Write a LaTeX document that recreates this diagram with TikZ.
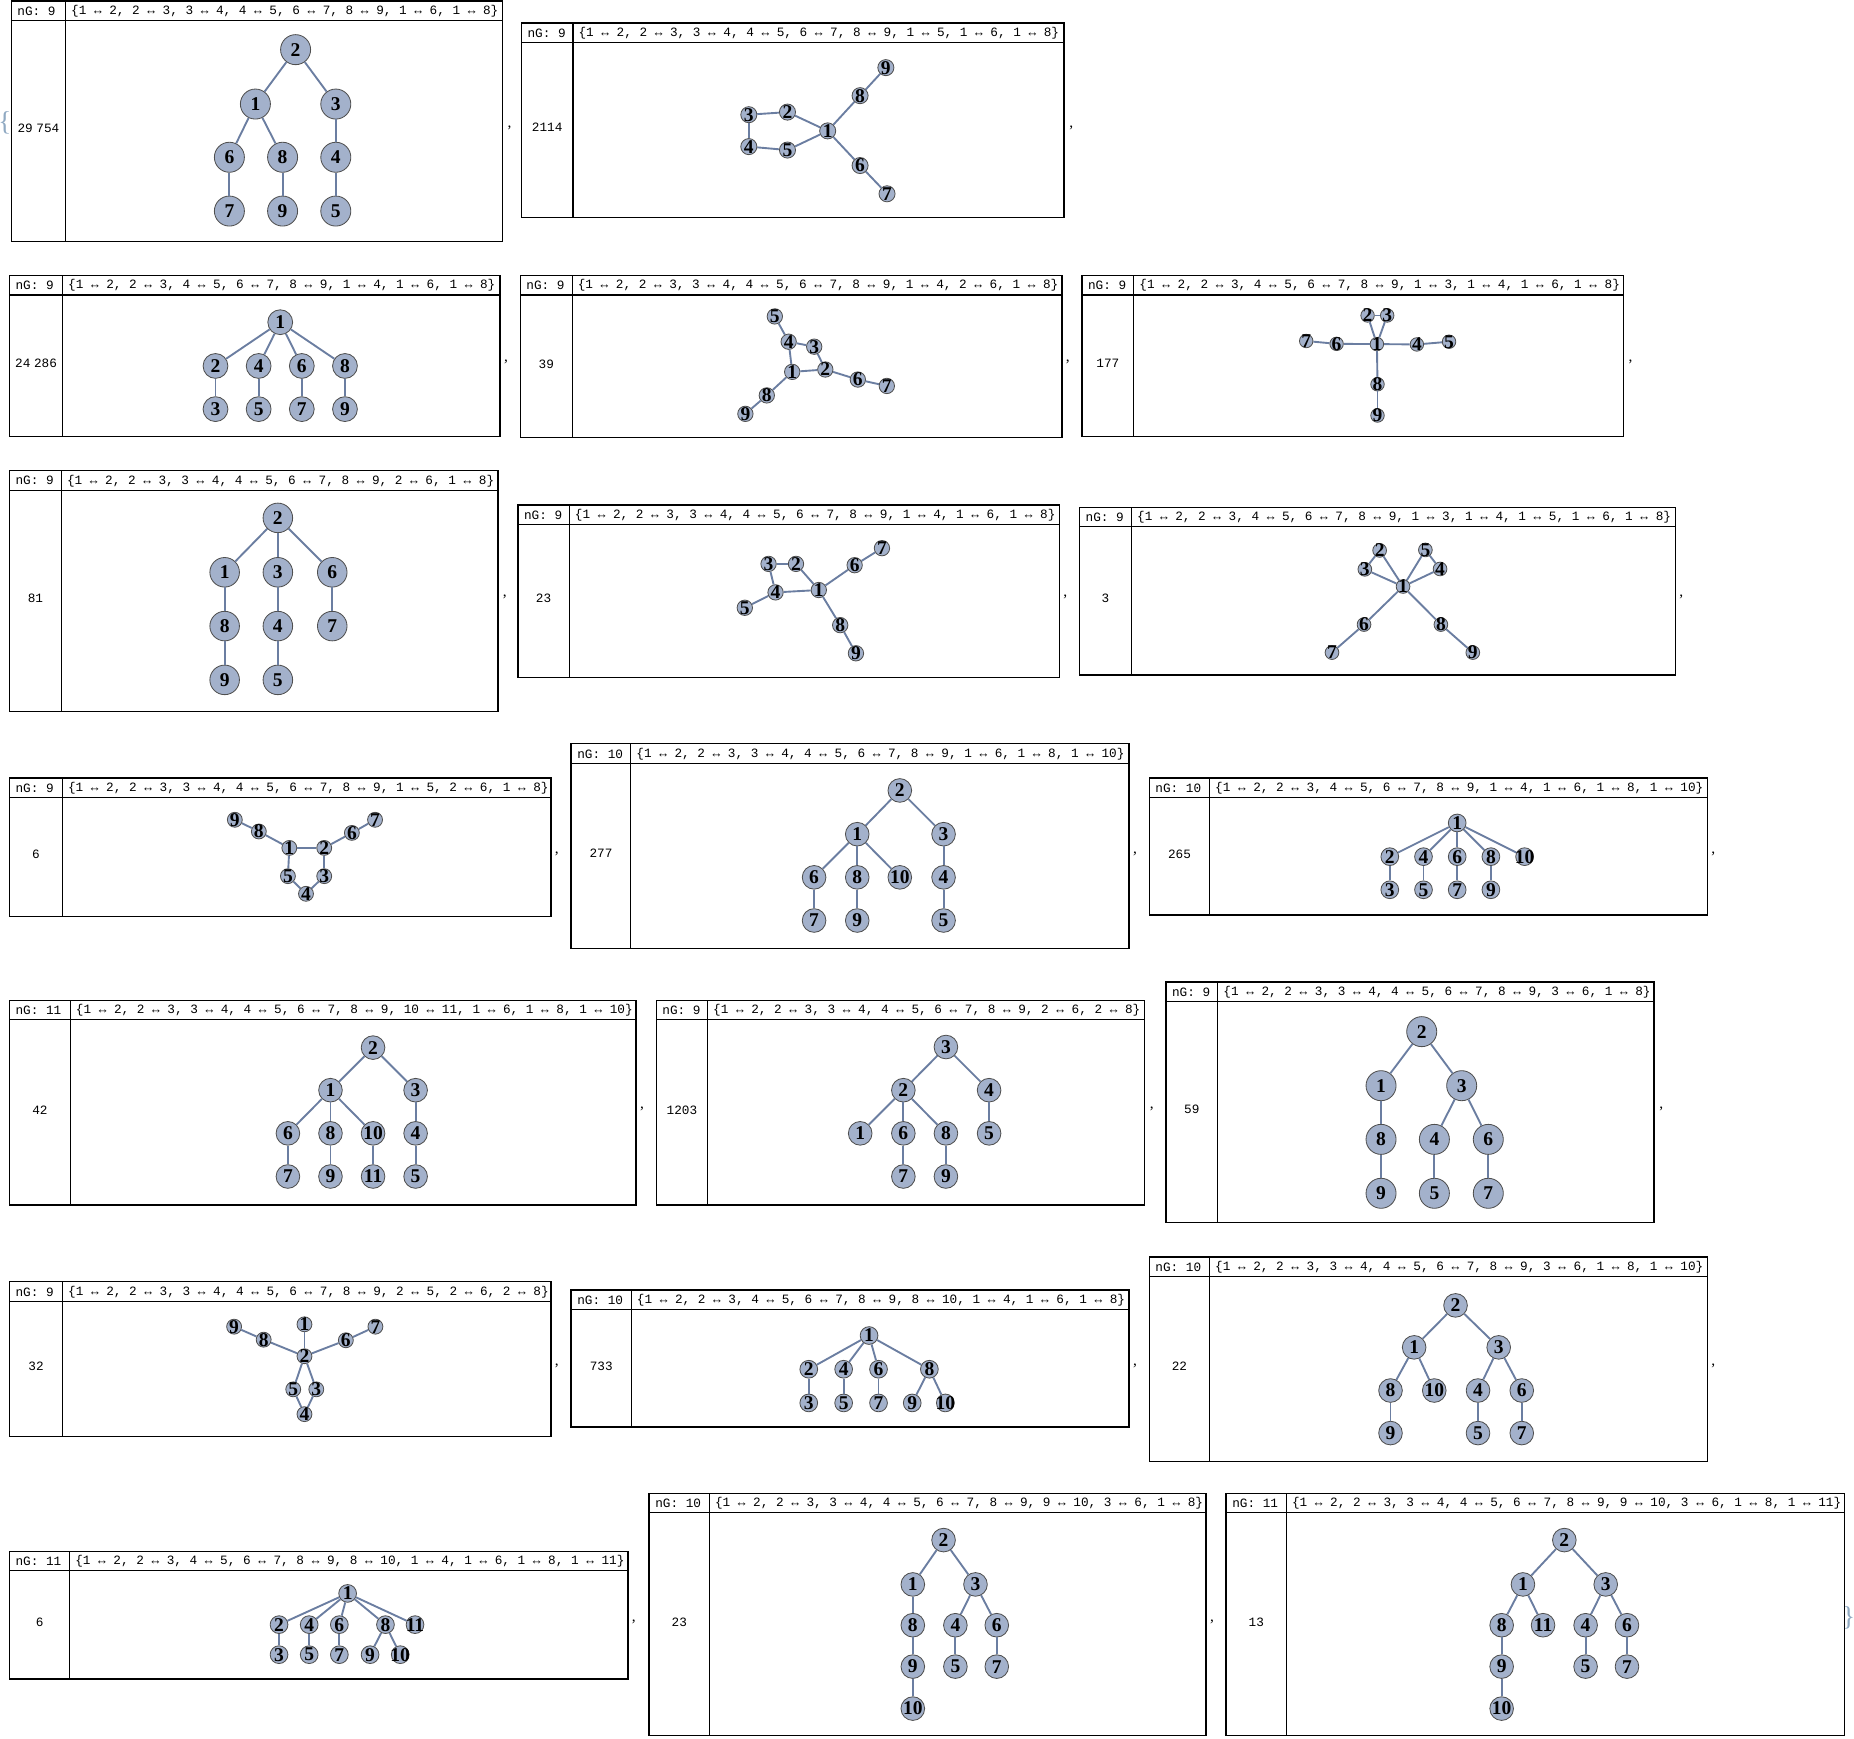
\documentclass[tikz,border=0pt]{standalone}
\usepackage{fontspec}
\setmainfont{Liberation Serif}
\setmonofont{Liberation Mono}
\definecolor{vfill}{HTML}{A3B1CB}
\definecolor{vdraw}{HTML}{4F4F4F}
\definecolor{ecol}{HTML}{6B7EA1}
\definecolor{brc}{HTML}{8FA9C2}
\tikzset{
  vtx/.style={circle,minimum size=#1,inner sep=0pt,fill=vfill,draw=vdraw,line width=0.7pt,font=\fontsize{16.5}{16.5}\selectfont\bfseries},
  glink/.style={draw=ecol,line width=1.6pt},
  pbox/.style={draw=black,line width=1.2pt},
  prule/.style={draw=black,line width=0.9pt},
  hdr/.style={inner sep=0pt,font=\ttfamily\fontsize{10.75}{12}\selectfont},
  commatxt/.style={inner sep=0pt,font=\fontsize{13}{13}\selectfont},
  bracetxt/.style={inner sep=0pt,text=brc,font=\fontsize{23}{23}\selectfont},
}
% #1 id, #2 left, #3 top, #4 right, #5 bottom, #6 divider, #7 nG, #8 edge list, #9 label
\newcommand\gpanel[9]{%
  \draw[pbox] (#2,#3) rectangle (#4,#5);
  \draw[prule] ({#2},{#3+16.5}) -- ({#4},{#3+16.5});
  \draw[prule] (#6,#3) -- (#6,#5);
  \node[hdr,anchor=west] (#1ng) at ({#2+5},{#3+8.6}) {nG: #7};
  \node[hdr,anchor=west] (#1el) at ({#6+4.5},{#3+8.6}) {#8};
  \node[hdr] (#1lab) at ({(#2+#6)/2},{(#3+16.5+#5)/2-2}) {#9};
}
\newcommand\gnodes[3]{\foreach \n/\x/\y in {#3} {\node[vtx=#2] (#1\n) at (\x,\y) {\makebox[0pt]{\n}};}}
\newcommand\gedges[2]{\foreach \u/\v in {#2} {\draw[glink] (#1\u) -- (#1\v);}}
\newcommand\gcomma[3]{\node[commatxt] (#1cm) at (#2,#3) {,};}
\begin{document}
\begin{tikzpicture}[x=1pt,y=-1pt]
\useasboundingbox (0,0) rectangle (1568,1470);
\node[bracetxt] (obrace) at (4.2,104) {\{};
\node[bracetxt] (cbrace) at (1563.5,1368) {\}};

% ---------- P1
\gpanel{a}{9.5}{0.8}{425}{204}{55.5}{9}{\{1 ↔ 2, 2 ↔ 3, 3 ↔ 4, 4 ↔ 5, 6 ↔ 7, 8 ↔ 9, 1 ↔ 6, 1 ↔ 8\}}{29\hspace{3pt}754}
\gnodes{a}{25.4}{1/216/88, 2/250/42, 3/284/88, 4/284/133, 5/284/178.5, 6/194/133, 7/194/178.5, 8/239/133, 9/239/178.5}
\gedges{a}{1/2,2/3,3/4,4/5,6/7,8/9,1/6,1/8}
\gcomma{a}{431}{108}

% ---------- P2
\gpanel{b}{441}{19.5}{900}{184}{484.6}{9}{\{1 ↔ 2, 2 ↔ 3, 3 ↔ 4, 4 ↔ 5, 6 ↔ 7, 8 ↔ 9, 1 ↔ 5, 1 ↔ 6, 1 ↔ 8\}}{2114}
\gnodes{b}{13.6}{1/700/110.7, 2/666/94.8, 3/633.3/97, 4/633.3/124, 5/666/126.9, 6/727.4/140, 7/750.2/163.9, 8/727.4/80.9, 9/749.2/57.2}
\gedges{b}{1/2,2/3,3/4,4/5,6/7,8/9,1/5,1/6,1/8}
\gcomma{b}{906}{108}

% ---------- P3
\gpanel{c}{8}{233}{423}{369}{53}{9}{\{1 ↔ 2, 2 ↔ 3, 4 ↔ 5, 6 ↔ 7, 8 ↔ 9, 1 ↔ 4, 1 ↔ 6, 1 ↔ 8\}}{24\hspace{3pt}286}
\gnodes{c}{21}{1/237/272.5, 2/182.25/309.5, 4/218.75/309.5, 6/255.25/309.5, 8/291.75/309.5, 3/182.25/346, 5/218.75/346, 7/255.25/346, 9/291.75/346}
\gedges{c}{1/2,2/3,4/5,6/7,8/9,1/4,1/6,1/8}
\gcomma{c}{428}{306}

% ---------- P4
\gpanel{d}{440}{233}{898}{370}{484}{9}{\{1 ↔ 2, 2 ↔ 3, 3 ↔ 4, 4 ↔ 5, 6 ↔ 7, 8 ↔ 9, 1 ↔ 4, 2 ↔ 6, 1 ↔ 8\}}{39}
\gnodes{d}{13}{1/670/314.5, 2/698/312.5, 3/688.6/293.2, 4/667/289, 5/655.3/267.6, 6/725.5/321, 7/750/326.4, 8/648.5/334.4, 9/630.4/350}
\gedges{d}{1/2,2/3,3/4,4/5,6/7,8/9,1/4,2/6,1/8}
\gcomma{d}{903}{306}

% ---------- P5
\gpanel{e}{915}{233}{1373}{369}{959}{9}{\{1 ↔ 2, 2 ↔ 3, 4 ↔ 5, 6 ↔ 7, 8 ↔ 9, 1 ↔ 3, 1 ↔ 4, 1 ↔ 6, 1 ↔ 8\}}{177}
\gnodes{e}{11.4}{1/1164.5/291, 2/1156.6/266.8, 3/1173.2/266.8, 4/1198.3/291.3, 5/1225.5/289, 6/1130.4/290.8, 7/1104.7/288.4, 8/1165/325, 9/1165/351.4}
\gedges{e}{1/2,2/3,4/5,6/7,8/9,1/3,1/4,1/6,1/8}
\gcomma{e}{1379}{306}

% ---------- P6
\gpanel{f}{8}{398}{421}{601.5}{52}{9}{\{1 ↔ 2, 2 ↔ 3, 3 ↔ 4, 4 ↔ 5, 6 ↔ 7, 8 ↔ 9, 2 ↔ 6, 1 ↔ 8\}}{81}
\gnodes{f}{25}{2/235/438, 1/190/484, 3/235/484, 6/281/484, 8/190/529.5, 4/235/529.5, 7/281/529.5, 9/190/575, 5/235/575}
\gedges{f}{1/2,2/3,3/4,4/5,6/7,8/9,2/6,1/8}
\gcomma{f}{427}{505}

% ---------- P7
\gpanel{g}{438}{427}{896}{573}{481.5}{9}{\{1 ↔ 2, 2 ↔ 3, 3 ↔ 4, 4 ↔ 5, 6 ↔ 7, 8 ↔ 9, 1 ↔ 4, 1 ↔ 6, 1 ↔ 8\}}{23}
\gnodes{g}{13}{1/692.5/499, 2/673.2/476.9, 3/650/476.9, 4/655.9/501, 5/629.9/514, 6/722.8/478, 7/745.9/463.6, 8/710.6/528.7, 9/723.9/552.5}
\gedges{g}{1/2,2/3,3/4,4/5,6/7,8/9,1/4,1/6,1/8}
\gcomma{g}{901}{505}

% ---------- P8
\gpanel{h}{913}{429}{1417}{571}{957}{9}{\{1 ↔ 2, 2 ↔ 3, 4 ↔ 5, 6 ↔ 7, 8 ↔ 9, 1 ↔ 3, 1 ↔ 4, 1 ↔ 5, 1 ↔ 6, 1 ↔ 8\}}{3}
\gnodes{h}{11.6}{1/1186.6/496, 2/1166.8/465.5, 3/1154.3/481.5, 4/1217.9/481.2, 5/1205.5/465.1, 6/1153.6/528.2, 7/1126.5/551.9, 8/1218.6/528.2, 9/1245.6/551.9}
\gedges{h}{1/2,2/3,4/5,6/7,8/9,1/3,1/4,1/5,1/6,1/8}
\gcomma{h}{1422}{505}

% ---------- P9
\gpanel{i}{8}{658}{466}{775}{52.9}{9}{\{1 ↔ 2, 2 ↔ 3, 3 ↔ 4, 4 ↔ 5, 6 ↔ 7, 8 ↔ 9, 1 ↔ 5, 2 ↔ 6, 1 ↔ 8\}}{6}
\gnodes{i}{12.6}{1/244.7/717.1, 2/274.2/717.1, 3/274.2/741, 4/258.8/755.9, 5/243.5/741, 6/297.6/704.4, 7/317.2/693.3, 8/218.9/703.2, 9/198.6/693.3}
\gedges{i}{1/2,2/3,3/4,4/5,6/7,8/9,1/5,2/6,1/8}
\gcomma{i}{471}{722}

% ---------- P10
\gpanel{j}{483}{629}{955}{802}{533.5}{10}{\{1 ↔ 2, 2 ↔ 3, 3 ↔ 4, 4 ↔ 5, 6 ↔ 7, 8 ↔ 9, 1 ↔ 6, 1 ↔ 8, 1 ↔ 10\}}{277}
\gnodes{j}{20}{2/761/668.5, 1/725/705.5, 3/798/705.5, 6/688.5/742, 8/725/742, 10/761/742, 4/798/742, 7/688.5/778.5, 9/725/778.5, 5/798/778.5}
\gedges{j}{1/2,2/3,3/4,4/5,6/7,8/9,1/6,1/8,1/10}
\gcomma{j}{960}{722}

% ---------- P11
\gpanel{k}{972}{658}{1444}{774}{1023}{10}{\{1 ↔ 2, 2 ↔ 3, 4 ↔ 5, 6 ↔ 7, 8 ↔ 9, 1 ↔ 4, 1 ↔ 6, 1 ↔ 8, 1 ↔ 10\}}{265}
\gnodes{k}{15}{1/1232.4/696, 2/1175.4/724.5, 4/1203.9/724.5, 6/1232.4/724.5, 8/1260.9/724.5, 10/1289.4/724.5, 3/1175.4/752.5, 5/1203.9/752.5, 7/1232.4/752.5, 9/1260.9/752.5}
\gedges{k}{1/2,2/3,4/5,6/7,8/9,1/4,1/6,1/8,1/10}
\gcomma{k}{1449}{722}

% ---------- P12
\gpanel{l}{8}{846}{538}{1019}{59.5}{11}{\{1 ↔ 2, 2 ↔ 3, 3 ↔ 4, 4 ↔ 5, 6 ↔ 7, 8 ↔ 9, 10 ↔ 11, 1 ↔ 6, 1 ↔ 8, 1 ↔ 10\}}{42}
\gnodes{l}{20}{2/315.5/886, 1/279.5/922, 3/351.5/922, 6/243.5/958.5, 8/279.5/958.5, 10/315.5/958.5, 4/351.5/958.5, 7/243.5/995, 9/279.5/995, 11/315.5/995, 5/351.5/995}
\gedges{l}{1/2,2/3,3/4,4/5,6/7,8/9,10/11,1/6,1/8,1/10}
\gcomma{l}{543}{938}

% ---------- P13
\gpanel{m}{555}{846}{968}{1019}{598.5}{9}{\{1 ↔ 2, 2 ↔ 3, 3 ↔ 4, 4 ↔ 5, 6 ↔ 7, 8 ↔ 9, 2 ↔ 6, 2 ↔ 8\}}{1203}
\gnodes{m}{20}{3/800/885.5, 2/764/922, 4/836.5/922, 1/727.5/958.5, 6/764/958.5, 8/800/958.5, 5/836.5/958.5, 7/764/995, 9/800/995}
\gedges{m}{1/2,2/3,3/4,4/5,6/7,8/9,2/6,2/8}
\gcomma{m}{974}{938}

% ---------- P14
\gpanel{n}{986}{830.5}{1399}{1034}{1030}{9}{\{1 ↔ 2, 2 ↔ 3, 3 ↔ 4, 4 ↔ 5, 6 ↔ 7, 8 ↔ 9, 3 ↔ 6, 1 ↔ 8\}}{59}
\gnodes{n}{25.4}{2/1202.4/872.5, 1/1168/918.2, 3/1236.2/918.2, 8/1168/963.6, 4/1213.1/963.6, 6/1258.7/963.6, 9/1168/1009.2, 5/1213.1/1009.2, 7/1258.7/1009.2}
\gedges{n}{1/2,2/3,3/4,4/5,6/7,8/9,3/6,1/8}
\gcomma{n}{1405}{938}

% ---------- P15
\gpanel{o}{8}{1084}{466}{1215}{53}{9}{\{1 ↔ 2, 2 ↔ 3, 3 ↔ 4, 4 ↔ 5, 6 ↔ 7, 8 ↔ 9, 2 ↔ 5, 2 ↔ 6, 2 ↔ 8\}}{32}
\gnodes{o}{12.6}{1/257.5/1120, 2/257.5/1147, 3/267.5/1175, 4/257.5/1196, 5/248/1175, 6/292.5/1133.5, 7/317.5/1122, 8/223/1133, 9/198/1122}
\gedges{o}{1/2,2/3,3/4,4/5,6/7,8/9,2/5,2/6,2/8}
\gcomma{o}{471}{1155}

% ---------- P16
\gpanel{p}{483}{1091}{955}{1207}{534}{10}{\{1 ↔ 2, 2 ↔ 3, 4 ↔ 5, 6 ↔ 7, 8 ↔ 9, 8 ↔ 10, 1 ↔ 4, 1 ↔ 6, 1 ↔ 8\}}{733}
\gnodes{p}{15}{1/735/1129.5, 2/684/1158, 4/713.5/1158, 6/743/1158, 8/786/1158, 3/684/1186.5, 5/713.5/1186.5, 7/743/1186.5, 9/771.5/1186.5, 10/799.5/1186.5}
\gedges{p}{1/2,2/3,4/5,6/7,8/9,8/10,1/4,1/6,1/8}
\gcomma{p}{960}{1155}

% ---------- P17
\gpanel{q}{972}{1063}{1444}{1236}{1023}{10}{\{1 ↔ 2, 2 ↔ 3, 3 ↔ 4, 4 ↔ 5, 6 ↔ 7, 8 ↔ 9, 3 ↔ 6, 1 ↔ 8, 1 ↔ 10\}}{22}
\gnodes{q}{20}{2/1231/1104, 1/1196/1139.5, 3/1267.5/1139.5, 8/1176/1176, 10/1213/1176, 4/1250/1176, 6/1287/1176, 9/1176/1212, 5/1250/1212, 7/1287/1212}
\gedges{q}{1/2,2/3,3/4,4/5,6/7,8/9,3/6,1/8,1/10}
\gcomma{q}{1449}{1155}

% ---------- P18
\gpanel{r}{8}{1312}{531}{1420}{59}{11}{\{1 ↔ 2, 2 ↔ 3, 4 ↔ 5, 6 ↔ 7, 8 ↔ 9, 8 ↔ 10, 1 ↔ 4, 1 ↔ 6, 1 ↔ 8, 1 ↔ 11\}}{6}
\gnodes{r}{15}{1/294/1347.6, 2/236/1374, 4/261.5/1374, 6/287/1374, 8/326/1374, 11/351/1374, 3/236/1399.4, 5/261.5/1399.4, 7/287/1399.4, 9/313/1399.4, 10/338.5/1399.4}
\gedges{r}{1/2,2/3,4/5,6/7,8/9,8/10,1/4,1/6,1/8,1/11}
\gcomma{r}{536}{1372}

% ---------- P19
\gpanel{s}{549}{1263}{1020}{1468}{600}{10}{\{1 ↔ 2, 2 ↔ 3, 3 ↔ 4, 4 ↔ 5, 6 ↔ 7, 8 ↔ 9, 9 ↔ 10, 3 ↔ 6, 1 ↔ 8\}}{23}
\gnodes{s}{20}{2/798/1302.5, 1/772/1340, 3/825/1340, 8/772/1374.5, 4/808/1374.5, 6/843/1374.5, 9/772/1409.5, 5/808/1409.5, 7/843/1409.5, 10/772/1445}
\gedges{s}{1/2,2/3,3/4,4/5,6/7,8/9,9/10,3/6,1/8}
\gcomma{s}{1025}{1372}

% ---------- P20
\gpanel{t}{1037}{1263}{1560}{1468}{1088}{11}{\{1 ↔ 2, 2 ↔ 3, 3 ↔ 4, 4 ↔ 5, 6 ↔ 7, 8 ↔ 9, 9 ↔ 10, 3 ↔ 6, 1 ↔ 8, 1 ↔ 11\}}{13}
\gnodes{t}{20}{2/1323/1302.5, 1/1288/1340, 3/1358/1340, 8/1270/1374.5, 11/1305/1374.5, 4/1341/1374.5, 6/1376/1374.5, 9/1270/1409.5, 5/1341/1409.5, 7/1376/1409.5, 10/1270/1445}
\gedges{t}{1/2,2/3,3/4,4/5,6/7,8/9,9/10,3/6,1/8,1/11}
\end{tikzpicture}
\end{document}
